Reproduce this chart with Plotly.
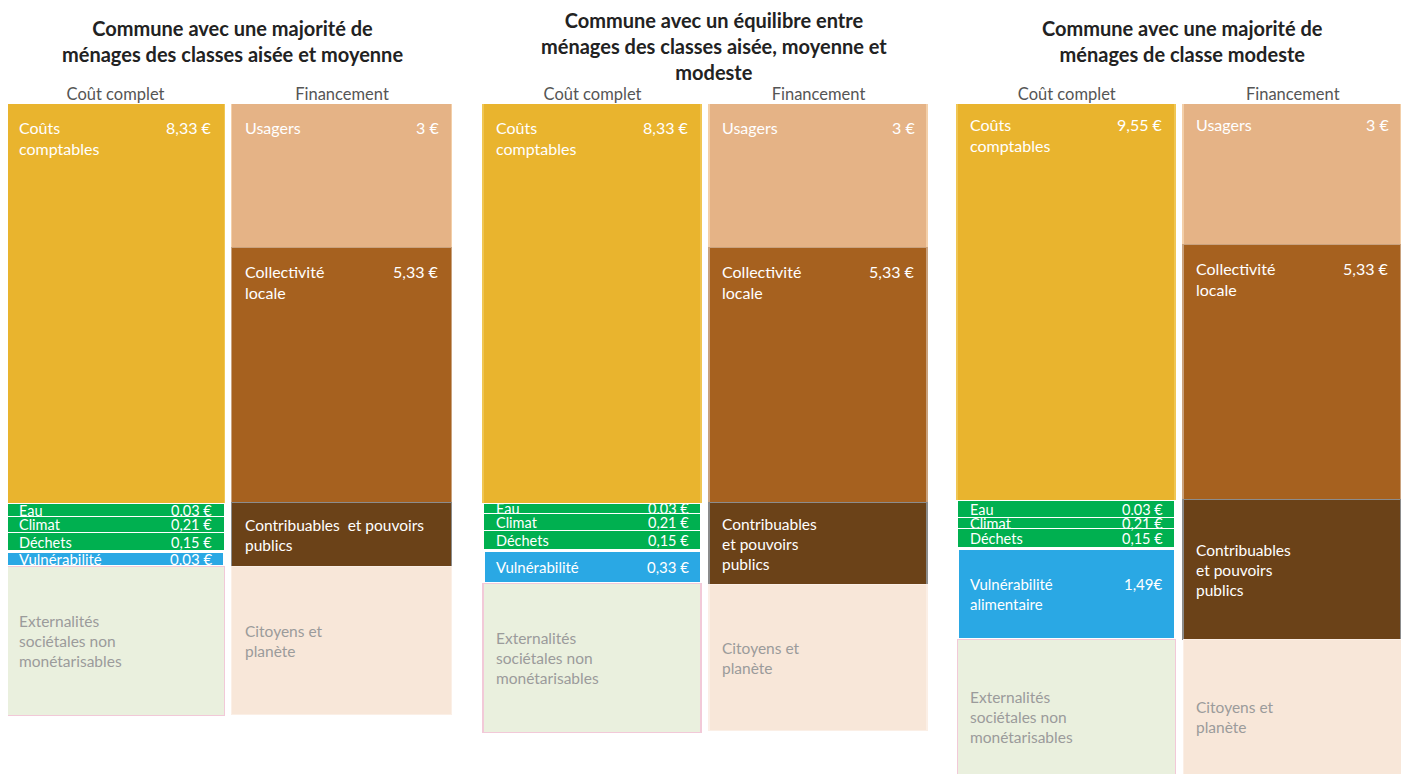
"""
Coût complet vs financement - three communes, schematic stacked columns
"""

import plotly.graph_objects as go

# Panel titles and column headers
titles = [
    "Commune avec une majorité de<br>ménages des classes aisée et moyenne",
    "Commune avec un équilibre entre<br>ménages des classes aisée, moyenne et<br>modeste",
    "Commune avec une majorité de<br>ménages de classe modeste",
]
columns = ["Coût complet", "Financement"]

# Cost column: labels, € values shown, drawn heights (the graphic is not to scale)
cost_names = [
    ["Coûts<br>comptables", "Eau", "Climat", "Déchets", "Vulnérabilité",
     "Externalités<br>sociétales non<br>monétarisables"],
    ["Coûts<br>comptables", "Eau", "Climat", "Déchets", "Vulnérabilité",
     "Externalités<br>sociétales non<br>monétarisables"],
    ["Coûts<br>comptables", "Eau", "Climat", "Déchets", "Vulnérabilité<br>alimentaire",
     "Externalités<br>sociétales non<br>monétarisables"],
]
cost_values = [
    ["8,33 €", "0.03 €", "0,21 €", "0,15 €", "0.03 €", ""],
    ["8,33 €", "0.03 €", "0,21 €", "0,15 €", "0,33 €", ""],
    ["9,55 €", "0.03 €", "0,21 €", "0,15 €", "1,49€<br> ", ""],
]
cost_heights = [
    [8.33, 0.27, 0.33, 0.40, 0.31, 3.10],
    [8.33, 0.21, 0.35, 0.42, 0.69, 3.10],
    [8.33, 0.35, 0.23, 0.42, 1.90, 3.20],
]

# Financing column
fin_names = [
    ["Usagers", "Collectivité<br>locale", "Contribuables  et pouvoirs<br>publics", "Citoyens et<br>planète"],
    ["Usagers", "Collectivité<br>locale", "Contribuables<br>et pouvoirs<br>publics", "Citoyens et<br>planète"],
    ["Usagers", "Collectivité<br>locale", "Contribuables<br>et pouvoirs<br>publics", "Citoyens et<br>planète"],
]
fin_values = [
    ["3 €", "5,33 €", "", ""],
    ["3 €", "5,33 €", "", ""],
    ["3 €", "5,33 €", "", ""],
]
fin_heights = [
    [3.0, 5.31, 1.33, 3.08],
    [3.0, 5.31, 1.71, 3.04],
    [3.0, 5.31, 2.92, 3.20],
]

# Styles
FONT = "Lato"
COST_COLORS = ["#E9B42E", "#00B050", "#00B050", "#00B050", "#2AA8E4", "#EAF0DE"]
COST_LINES = ["#F0C653", "#FFFFFF", "#FFFFFF", "#FFFFFF", "#FFFFFF", "#F2C9D8"]
COST_LINE_W = [1.5, 1.5, 1.5, 1.5, 3, 1.2]
FIN_COLORS = ["#E5B386", "#A6611F", "#6B4218", "#F8E7D9"]
FIN_LINES = ["#F3CFA9", "#C9A27E", "#8C8C8C", "#FBEFE6"]
FIN_LINE_W = [1.5, 1.5, 1.5, 1.2]
COST_TEXT = ["white"] * 5 + ["#9B9B9B"]
FIN_TEXT = ["white"] * 3 + ["#9B9B9B"]
COST_TOP = [True, False, False, False, False, False]
FIN_TOP = [True, True, False, False]
COST_SIZE = [16, 14.5, 14.5, 14.5, 15, 15.5]
FIN_SIZE = [16, 16, 15.5, 15.5]

# page body has an 8px margin, so the figure is shrunk and shifted to match
PAGE_W, PAGE_H, OFF = 1409, 782, 8
W, H = PAGE_W - 2 * OFF, PAGE_H - 2 * OFF
TOP = 104 - OFF
PX_PER_UNIT = 48.0
Y_SPAN = (H - TOP) / PX_PER_UNIT
BAR_W = 0.967
PANEL_PX = [(2.25, 455.25), (479.5, 931.5), (953.75, 1405.75)]
Y_OFFSETS = [0.0, 0.0, 3 / PX_PER_UNIT]
TITLE_TOPS = [14, 6, 14]
TITLE_CX = [232, 714, 1182]
PAD_PX = 11
TOP_LABEL_PX = 12


def paper_y(px):
    return (H - (px - OFF)) / (H - TOP)


def x_layout(a, b):
    """Domain, range and px-per-unit for a panel spanning page pixels a..b."""
    unit = (b - a) / 2.0
    left, right = a - OFF, b - OFF
    lo = -0.5 + max(0.0, -left) / unit
    hi = 1.5 - max(0.0, right - W) / unit
    return [max(0.0, left) / W, min(float(W), right) / W], [lo, hi], unit


fig = go.Figure()
annotations = []

for p in range(3):
    ax = "" if p == 0 else str(p + 1)
    xref, yref = "x" + ax, "y" + ax
    dom, rng, unit = x_layout(*PANEL_PX[p])
    pad = PAD_PX / unit

    cols = [
        (0, cost_names[p], cost_values[p], cost_heights[p], COST_COLORS, COST_LINES,
         COST_LINE_W, COST_TEXT, COST_TOP, COST_SIZE),
        (1, fin_names[p], fin_values[p], fin_heights[p], FIN_COLORS, FIN_LINES,
         FIN_LINE_W, FIN_TEXT, FIN_TOP, FIN_SIZE),
    ]
    for xc, names, values, heights, colors, lines, lw, tcol, top, sizes in cols:
        start = 0.0
        for i, h in enumerate(heights):
            fig.add_trace(go.Bar(
                x=[xc], y=[h], width=BAR_W,
                marker=dict(color=colors[i], line=dict(color=lines[i], width=lw[i])),
                xaxis=xref, yaxis=yref, showlegend=False, hoverinfo="skip",
            ))
            end = start + h
            if top[i]:
                ya, yv = "top", start + TOP_LABEL_PX / PX_PER_UNIT
            else:
                ya, yv = "middle", (start + end) / 2
            annotations.append(dict(
                x=xc - BAR_W / 2 + pad, y=yv, xref=xref, yref=yref, text=names[i],
                xanchor="left", yanchor=ya, showarrow=False,
                align="left", font=dict(family=FONT, size=sizes[i], color=tcol[i]),
            ))
            if values[i]:
                annotations.append(dict(
                    x=xc + BAR_W / 2 - pad, y=yv, xref=xref, yref=yref, text=values[i],
                    xanchor="right", yanchor=ya, showarrow=False,
                    align="right", font=dict(family=FONT, size=sizes[i], color=tcol[i]),
                ))
            start = end

    off = Y_OFFSETS[p]
    fig.update_layout(**{
        "xaxis" + ax: dict(
            domain=dom, range=rng, side="top", anchor=yref,
            tickvals=[0, 1], ticktext=columns, ticks="", showgrid=False,
            zeroline=False, showline=False,
            tickfont=dict(family=FONT, size=16.5, color="#555555"),
        ),
        "yaxis" + ax: dict(
            range=[Y_SPAN + off, off], anchor=xref, visible=False,
            showgrid=False, zeroline=False,
        ),
    })

    annotations.append(dict(
        x=(TITLE_CX[p] - OFF) / W, y=paper_y(TITLE_TOPS[p]), xref="paper", yref="paper",
        text="<b>" + titles[p] + "</b>", xanchor="center", yanchor="top",
        showarrow=False, align="center",
        font=dict(family=FONT, size=20, color="#222222"),
    ))

fig.update_layout(
    barmode="stack",
    bargap=0,
    width=W,
    height=H,
    margin=dict(l=0, r=0, t=TOP, b=0),
    plot_bgcolor="white",
    paper_bgcolor="white",
    annotations=annotations,
)

fig.write_html("out.html")
